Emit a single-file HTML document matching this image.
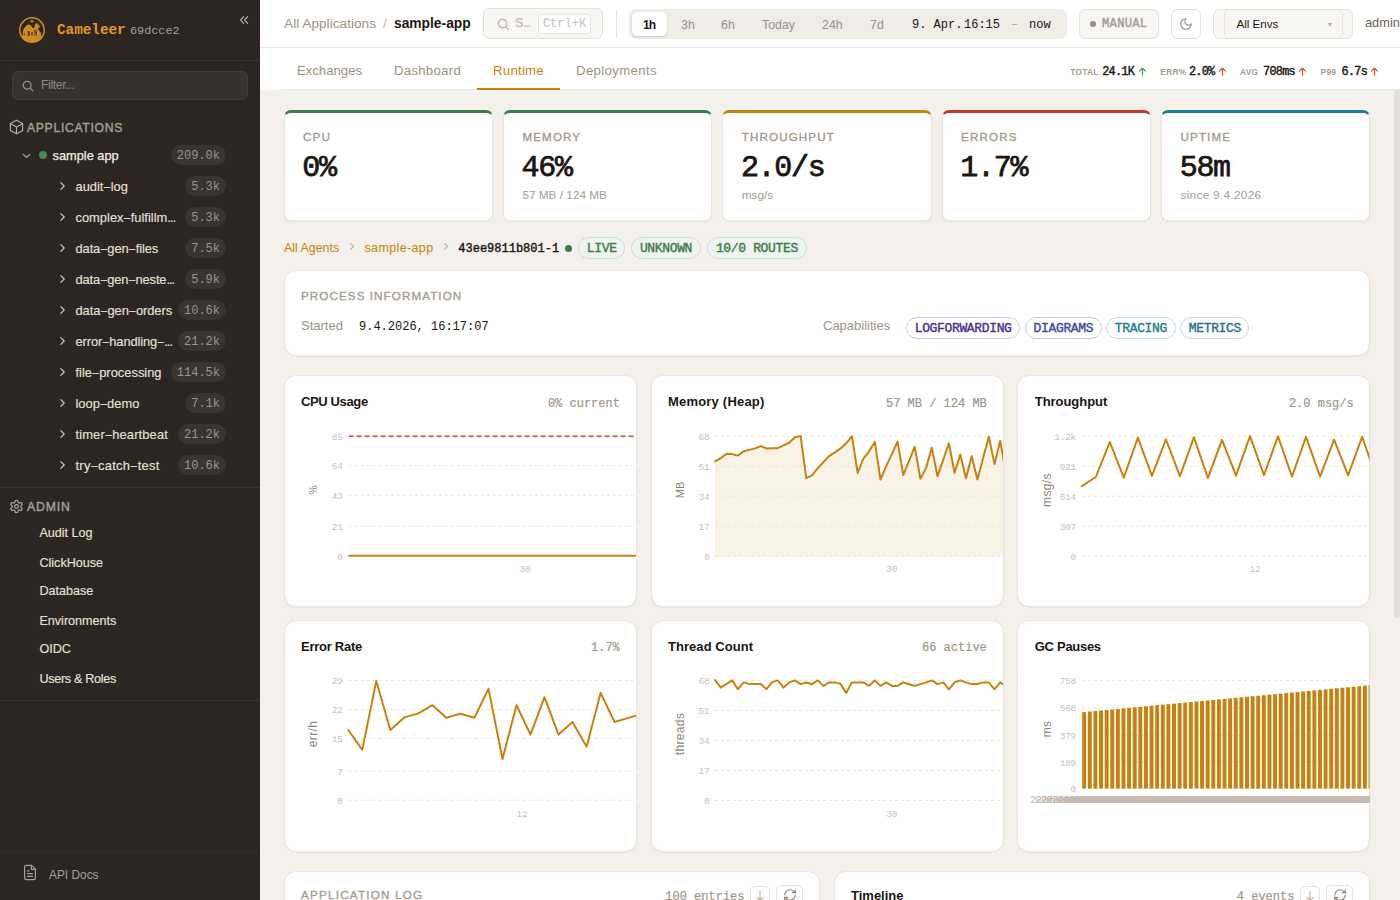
<!DOCTYPE html>
<html lang="en">
<head>
<meta charset="utf-8">
<title>Cameleer - Runtime</title>
<style>
*{box-sizing:border-box;margin:0;padding:0}
html,body{width:1400px;height:900px;overflow:hidden;background:#F4F1EC}
body{font-family:"Liberation Sans",sans-serif;color:#1A1612;position:relative;font-size:13px}
.mono{font-family:"Liberation Mono",monospace}
.abs{position:absolute;white-space:nowrap}
svg{display:block}

/* ---------- sidebar ---------- */
#side{position:absolute;left:0;top:0;width:260px;height:900px;background:#2C2521;color:#E5DDD2}
#side .hr{position:absolute;left:0;width:260px;height:1px;background:#3B3430}
.brand{left:57px;top:20px;font:bold 14.3px/20px "Liberation Mono",monospace;color:#E39A1F}
.ver{left:130px;top:21px;font:11.8px/20px "Liberation Mono",monospace;color:#A89F92}
.filter{position:absolute;left:12px;top:71px;width:236px;height:29px;border-radius:6px;background:#38322D;border:1px solid #443D37}
.filter span{position:absolute;left:28px;top:0;line-height:27px;font-size:12.2px;letter-spacing:-.35px;color:#8F867A}
.sec{font-size:12.2px;letter-spacing:.68px;color:#A89F92;-webkit-text-stroke:.4px #A89F92;line-height:16px}
.row{position:absolute;left:0;width:260px;height:31px}
.row .nm{position:absolute;top:-.3px;line-height:31px;font-size:12.9px;letter-spacing:0;color:#E8E0D5;white-space:nowrap;-webkit-text-stroke:.14px #E8E0D5}
.row .nm .d{font-size:11px;margin:0 .55px;position:relative;top:-.5px}
.row .bd{position:absolute;right:34px;top:5px;height:20px;border-radius:10px;background:#3A332E;color:#9C9389;font:12px/22.7px "Liberation Mono",monospace;padding:0 6px}
.adm{left:39.4px;font-size:12.6px;color:#E8E0D5;line-height:16px;-webkit-text-stroke:.14px #E8E0D5}

/* ---------- top bar ---------- */
#top{position:absolute;left:260px;top:0;width:1140px;height:48px;background:#fff;border-bottom:1px solid #ECE8E2}
#tabs{position:absolute;left:260px;top:48px;width:1140px;height:42px;background:#fff}
#tabs .bl{position:absolute;left:21px;right:0;bottom:0;height:1px;background:#E8E3DB}
.tab{position:absolute;top:0;height:42px;line-height:45px;font-size:13.2px;color:#9C9184;text-align:center}
.tab.on{color:#C6820E;border-bottom:2px solid #C6820E}
.box{position:absolute;border:1px solid #E8E3DB;border-radius:6px;background:#F9F7F3}
.seg{position:absolute;left:369px;top:9px;width:438px;height:30px;border-radius:7px;background:#F0ECE6}
.seg i{position:absolute;top:2px;line-height:29px;font-style:normal;font-size:12.4px;color:#9C9184}
.st{position:absolute;top:13px;line-height:20px;white-space:nowrap}
.st b{position:relative;top:.5px;font:bold 8.4px/20px "Liberation Sans",sans-serif;letter-spacing:.25px;color:#A59C90;vertical-align:top}
.st span{position:relative;top:1.1px;font:11.9px/20px "Liberation Mono",monospace;color:#1A1612;letter-spacing:-.75px;-webkit-text-stroke:.4px #1A1612;vertical-align:top}

/* ---------- cards ---------- */
.card{position:absolute;background:#fff;border:1px solid #E9E4DC;border-radius:12px;box-shadow:0 1px 2px rgba(60,40,20,.05)}
.kpi{position:absolute;top:109.8px;height:111.7px;width:209.4px;background:#fff;border:1px solid #E9E4DC;border-top:3px solid #3D7C47;border-radius:7px;box-shadow:0 1px 2px rgba(60,40,20,.05)}
.kpi .l{position:absolute;left:18.4px;top:17px;font-size:11.6px;letter-spacing:1.15px;color:#A0968A;-webkit-text-stroke:.3px #A0968A;line-height:14px}
.kpi .v{position:absolute;left:17.6px;top:35.5px;font:30px/40px "Liberation Mono",monospace;color:#1A1612;letter-spacing:-1.3px;-webkit-text-stroke:.75px #1A1612}
.kpi .s{position:absolute;left:18.4px;top:74px;font-size:11.8px;color:#A59C90;line-height:16px}
.pill{position:absolute;height:22px;border-radius:11px;border:1px solid;font:13px/21.4px "Liberation Mono",monospace;letter-spacing:-.35px;-webkit-text-stroke:.4px;text-align:center;white-space:nowrap}
.ct{font-weight:bold;font-size:13px;color:#1A1612;line-height:16px}
.cv{font:12px/16px "Liberation Mono",monospace;color:#A09689;-webkit-text-stroke:.2px #A09689}
.charts{position:absolute;left:0;top:0;pointer-events:none}
.tk{font:9.5px "Liberation Mono",monospace;letter-spacing:-.3px;fill:#C9C1B7}
.gcx{fill:#C4BAAF;font-size:10px;letter-spacing:-.6px}
.yl{font:12px "Liberation Sans",sans-serif;letter-spacing:.35px;fill:#8C8378}
.ib{position:absolute;border:1px solid #E8E3DB;border-radius:5px;background:#fff}
</style>
</head>
<body>

<!-- ================= SIDEBAR ================= -->
<div id="side">
  <svg class="abs" style="left:19px;top:17px" width="26" height="26" viewBox="0 0 26 26">
    <circle cx="13" cy="13" r="12.2" fill="none" stroke="#CF8C20" stroke-width="1.5"/>
    <path d="M1.5 18.4 A12.9 12.9 0 0 0 24.5 18.4 Z" fill="#CF8C20"/>
    <path d="M3.5 18.8 3.8 14.4Q4.4 11.6 6.4 9.7Q9 6.4 11.7 8.2L13.4 10.4 15 11.2 16.1 8 16.5 6.2 18.2 6.3 19.2 7.8 21 9.2 20.6 10.7 19 11 19.6 13 21.6 15.5 22.7 18.8Z" fill="#CF8C20"/>
    <path d="M13 2.5 14 3.8 16 4.3 14 4.8 13 6.1 12 4.8 10 4.3 12 3.8Z" fill="#CF8C20"/>
    <g fill="#2C2521" opacity=".82"><rect x="4.7" y="15.8" width="1.1" height="2.4"/><rect x="8.7" y="14" width="2.1" height="4.8" rx=".6"/><rect x="12.3" y="15.2" width="1.4" height="3"/><path d="M15.2 13.2h2.8v1h-1.6v.9h1.6v2.6h-2.8v-1h1.6v-.8h-1.6z"/><rect x="22.1" y="16.8" width=".8" height="2"/></g>
    <g fill="#CFC3AE" opacity=".55"><rect x="6.4" y="19.2" width="1.3" height=".8"/><rect x="13.6" y="23" width="1.1" height=".7"/></g>
  </svg>
  <div class="abs brand">Cameleer</div>
  <div class="abs ver">69dcce2</div>
  <svg class="abs" style="left:239.3px;top:15px" width="10" height="10" viewBox="0 0 10 10" fill="none" stroke="#B5ADA2" stroke-width="1.2" stroke-linecap="round" stroke-linejoin="round"><path d="M4.6 1.6 1.6 5l3 3.4M8.6 1.6 5.6 5l3 3.4"/></svg>
  <div class="hr" style="top:60px"></div>

  <div class="filter">
    <svg style="position:absolute;left:9px;top:8px" width="12" height="12" viewBox="0 0 12 12" fill="none" stroke="#9A9186" stroke-width="1.2" stroke-linecap="round"><circle cx="5.2" cy="5.2" r="3.9"/><path d="M8.2 8.2 10.8 10.8"/></svg>
    <span>Filter...</span>
  </div>

  <svg class="abs" style="left:9px;top:119.4px" width="15" height="16" viewBox="0 0 15 16" fill="none" stroke="#B5ADA2" stroke-width="1.2" stroke-linejoin="round" stroke-linecap="round"><path d="M7.5 1.2 13.6 4.6v6.8L7.5 14.8 1.4 11.4V4.6Z"/><path d="M1.6 4.8 7.5 8.1l5.9-3.3M7.5 8.1v6.5"/></svg>
  <div class="abs sec" style="left:27px;top:119.5px">APPLICATIONS</div>

  <div class="row" style="top:140px">
    <svg class="abs" style="left:22px;top:12px" width="9" height="8" viewBox="0 0 9 8" fill="none" stroke="#A89F92" stroke-width="1.2" stroke-linecap="round" stroke-linejoin="round"><path d="M1.3 2.5 4.5 5.4 7.7 2.5"/></svg>
    <div class="abs" style="left:39px;top:11.2px;width:8px;height:8px;border-radius:50%;background:#3F8A4D"></div>
    <div class="nm" style="left:52.5px;font-size:12.8px;letter-spacing:0;color:#F3ECE2;-webkit-text-stroke:.25px #F3ECE2">sample app</div>
    <div class="bd">209.0k</div>
  </div>
  <div class="row" style="top:171px"><svg class="abs" style="left:58px;top:9.6px" width="9" height="10" viewBox="0 0 9 10" fill="none" stroke="#CFC7BC" stroke-width="1.2" stroke-linecap="round" stroke-linejoin="round"><path d="M2.8 1.6 6.2 5 2.8 8.4"/></svg><div class="nm" style="left:75.5px;letter-spacing:0px">audit<span class="d">&ndash;</span>log</div><div class="bd">5.3k</div></div>
<div class="row" style="top:202px"><svg class="abs" style="left:58px;top:9.6px" width="9" height="10" viewBox="0 0 9 10" fill="none" stroke="#CFC7BC" stroke-width="1.2" stroke-linecap="round" stroke-linejoin="round"><path d="M2.8 1.6 6.2 5 2.8 8.4"/></svg><div class="nm" style="left:75.5px;letter-spacing:0px">complex<span class="d">&ndash;</span>fulfillm<span style="letter-spacing:-1px">...</span></div><div class="bd">5.3k</div></div>
<div class="row" style="top:233px"><svg class="abs" style="left:58px;top:9.6px" width="9" height="10" viewBox="0 0 9 10" fill="none" stroke="#CFC7BC" stroke-width="1.2" stroke-linecap="round" stroke-linejoin="round"><path d="M2.8 1.6 6.2 5 2.8 8.4"/></svg><div class="nm" style="left:75.5px;letter-spacing:-0.1px">data<span class="d">&ndash;</span>gen<span class="d">&ndash;</span>files</div><div class="bd">7.5k</div></div>
<div class="row" style="top:264px"><svg class="abs" style="left:58px;top:9.6px" width="9" height="10" viewBox="0 0 9 10" fill="none" stroke="#CFC7BC" stroke-width="1.2" stroke-linecap="round" stroke-linejoin="round"><path d="M2.8 1.6 6.2 5 2.8 8.4"/></svg><div class="nm" style="left:75.5px;letter-spacing:-0.12px">data<span class="d">&ndash;</span>gen<span class="d">&ndash;</span>neste<span style="letter-spacing:-1px">...</span></div><div class="bd">5.9k</div></div>
<div class="row" style="top:295px"><svg class="abs" style="left:58px;top:9.6px" width="9" height="10" viewBox="0 0 9 10" fill="none" stroke="#CFC7BC" stroke-width="1.2" stroke-linecap="round" stroke-linejoin="round"><path d="M2.8 1.6 6.2 5 2.8 8.4"/></svg><div class="nm" style="left:75.5px;letter-spacing:-0.07px">data<span class="d">&ndash;</span>gen<span class="d">&ndash;</span>orders</div><div class="bd">10.6k</div></div>
<div class="row" style="top:326px"><svg class="abs" style="left:58px;top:9.6px" width="9" height="10" viewBox="0 0 9 10" fill="none" stroke="#CFC7BC" stroke-width="1.2" stroke-linecap="round" stroke-linejoin="round"><path d="M2.8 1.6 6.2 5 2.8 8.4"/></svg><div class="nm" style="left:75.5px;letter-spacing:-0.11px">error<span class="d">&ndash;</span>handling<span class="d">&ndash;</span><span style="letter-spacing:-1px">...</span></div><div class="bd">21.2k</div></div>
<div class="row" style="top:357px"><svg class="abs" style="left:58px;top:9.6px" width="9" height="10" viewBox="0 0 9 10" fill="none" stroke="#CFC7BC" stroke-width="1.2" stroke-linecap="round" stroke-linejoin="round"><path d="M2.8 1.6 6.2 5 2.8 8.4"/></svg><div class="nm" style="left:75.5px;letter-spacing:0px">file<span class="d">&ndash;</span>processing</div><div class="bd">114.5k</div></div>
<div class="row" style="top:388px"><svg class="abs" style="left:58px;top:9.6px" width="9" height="10" viewBox="0 0 9 10" fill="none" stroke="#CFC7BC" stroke-width="1.2" stroke-linecap="round" stroke-linejoin="round"><path d="M2.8 1.6 6.2 5 2.8 8.4"/></svg><div class="nm" style="left:75.5px;letter-spacing:0px">loop<span class="d">&ndash;</span>demo</div><div class="bd">7.1k</div></div>
<div class="row" style="top:419px"><svg class="abs" style="left:58px;top:9.6px" width="9" height="10" viewBox="0 0 9 10" fill="none" stroke="#CFC7BC" stroke-width="1.2" stroke-linecap="round" stroke-linejoin="round"><path d="M2.8 1.6 6.2 5 2.8 8.4"/></svg><div class="nm" style="left:75.5px;letter-spacing:0.14px">timer<span class="d">&ndash;</span>heartbeat</div><div class="bd">21.2k</div></div>
<div class="row" style="top:450px"><svg class="abs" style="left:58px;top:9.6px" width="9" height="10" viewBox="0 0 9 10" fill="none" stroke="#CFC7BC" stroke-width="1.2" stroke-linecap="round" stroke-linejoin="round"><path d="M2.8 1.6 6.2 5 2.8 8.4"/></svg><div class="nm" style="left:75.5px;letter-spacing:0.26px">try<span class="d">&ndash;</span>catch<span class="d">&ndash;</span>test</div><div class="bd">10.6k</div></div>


  <div class="hr" style="top:487px"></div>
  <svg class="abs" style="left:9px;top:499px" width="15" height="15" viewBox="0 0 24 24" fill="none" stroke="#B5ADA2" stroke-width="1.9" stroke-linecap="round" stroke-linejoin="round"><path d="M12.22 2h-.44a2 2 0 0 0-2 2v.18a2 2 0 0 1-1 1.73l-.43.25a2 2 0 0 1-2 0l-.15-.08a2 2 0 0 0-2.73.73l-.22.38a2 2 0 0 0 .73 2.73l.15.1a2 2 0 0 1 1 1.72v.51a2 2 0 0 1-1 1.74l-.15.09a2 2 0 0 0-.73 2.73l.22.38a2 2 0 0 0 2.73.73l.15-.08a2 2 0 0 1 2 0l.43.25a2 2 0 0 1 1 1.73V20a2 2 0 0 0 2 2h.44a2 2 0 0 0 2-2v-.18a2 2 0 0 1 1-1.73l.43-.25a2 2 0 0 1 2 0l.15.08a2 2 0 0 0 2.73-.73l.22-.39a2 2 0 0 0-.73-2.73l-.15-.08a2 2 0 0 1-1-1.74v-.5a2 2 0 0 1 1-1.74l.15-.09a2 2 0 0 0 .73-2.73l-.22-.38a2 2 0 0 0-2.73-.73l-.15.08a2 2 0 0 1-2 0l-.43-.25a2 2 0 0 1-1-1.73V4a2 2 0 0 0-2-2z"/><circle cx="12" cy="12" r="3"/></svg>
  <div class="abs sec" style="left:27px;top:499px;letter-spacing:.86px">ADMIN</div>
  <div class="abs adm" style="top:525px">Audit Log</div>
  <div class="abs adm" style="top:555px">ClickHouse</div>
  <div class="abs adm" style="top:583px">Database</div>
  <div class="abs adm" style="top:613px">Environments</div>
  <div class="abs adm" style="top:641px">OIDC</div>
  <div class="abs adm" style="top:671px;letter-spacing:-.3px">Users &amp; Roles</div>
  <div class="hr" style="top:700px"></div>

  <div class="hr" style="top:851px;background:#332C27"></div>
  <svg class="abs" style="left:23px;top:864px" width="14" height="17" viewBox="0 0 14 17" fill="none" stroke="#A89F92" stroke-width="1.2" stroke-linecap="round" stroke-linejoin="round"><path d="M8.6 1.4H3.2a1.6 1.6 0 0 0-1.6 1.6v11a1.6 1.6 0 0 0 1.6 1.6h7.6a1.6 1.6 0 0 0 1.6-1.6V5.2Z"/><path d="M8.4 1.6v3.8h3.8M4.4 6.8h1.6M4.4 9.6h5.2M4.4 12.4h5.2"/></svg>
  <div class="abs" style="left:49px;top:867px;font-size:11.9px;line-height:16px;color:#A89F92">API Docs</div>
</div>

<!-- ================= TOP BAR ================= -->
<div id="top">
  <div class="abs" style="left:24px;top:14px;line-height:20px;font-size:13.7px;color:#9C9184">All Applications</div>
  <div class="abs" style="left:123px;top:14px;line-height:20px;font-size:13.7px;color:#B9B0A5">/</div>
  <div class="abs" style="left:134px;top:14px;line-height:20px;font-size:13.8px;font-weight:bold;color:#1A1612">sample-app</div>

  <div class="box" style="left:223px;top:8px;width:120px;height:31px">
    <svg style="position:absolute;left:13px;top:9px" width="13" height="13" viewBox="0 0 13 13" fill="none" stroke="#B5ADA2" stroke-width="1.2" stroke-linecap="round"><circle cx="5.6" cy="5.6" r="4.3"/><path d="M8.9 8.9 11.6 11.6"/></svg>
    <div class="abs" style="left:31px;top:0;line-height:28px;font-size:12.5px;color:#B5ADA2">S<span style="letter-spacing:-1.3px">...</span></div>
    <div class="abs mono" style="left:54px;top:4.5px;width:53px;height:20px;border:1px solid #E8E3DB;border-radius:4px;background:#fff;font-size:12px;line-height:18px;text-align:center;color:#C6BFB5">Ctrl+K</div>
  </div>
  <div class="abs" style="left:355.5px;top:10px;width:1.5px;height:28px;background:#E8E3DB"></div>

  <div class="seg">
    <div class="abs" style="left:3px;top:2.5px;width:35px;height:24.5px;border-radius:5px;background:#fff;box-shadow:0 1px 2px rgba(60,40,20,.18)"></div>
    <i style="left:14px;font-weight:bold;color:#1A1612;font-size:12px;letter-spacing:-.8px">1h</i>
    <i style="left:52px">3h</i>
    <i style="left:92px">6h</i>
    <i style="left:133px">Today</i>
    <i style="left:193px">24h</i>
    <i style="left:241px">7d</i>
    <i class="mono" style="left:283px;font-size:12px;color:#1A1612">9. Apr.</i>
    <i class="mono" style="left:335px;font-size:12px;color:#1A1612">16:15</i>
    <i class="mono" style="left:382px;font-size:12px;color:#B5ADA2">&ndash;</i>
    <i class="mono" style="left:400px;font-size:12px;color:#1A1612">now</i>
  </div>

  <div class="box" style="left:819px;top:9px;width:80px;height:30px">
    <div class="abs" style="left:10px;top:10.6px;width:6px;height:6px;border-radius:50%;background:#9C9184"></div>
    <div class="abs mono" style="left:22px;top:0;line-height:28.6px;font-size:12.2px;letter-spacing:.25px;color:#A59C90;-webkit-text-stroke:.4px #A59C90">MANUAL</div>
  </div>
  <div class="box" style="left:911px;top:9px;width:30px;height:30px;background:#fff">
    <svg style="position:absolute;left:7px;top:7px" width="14" height="14" viewBox="0 0 24 24" fill="none" stroke="#9C9184" stroke-width="2.1" stroke-linecap="round" stroke-linejoin="round"><path d="M12 3a6 6 0 0 0 9 9 9 9 0 1 1-9-9Z"/></svg>
  </div>
  <div class="box" style="left:953px;top:9px;width:140px;height:30px"></div>
  <div class="box" style="left:963.5px;top:9px;width:119px;height:30px">
    <div class="abs" style="left:12px;top:0;line-height:28px;font-size:11.6px;color:#1A1612">All Envs</div>
    <div class="abs" style="left:103.5px;top:13px;width:0;height:0;border-left:2.6px solid transparent;border-right:2.6px solid transparent;border-top:4px solid #B5ADA2"></div>
  </div>
  <div class="abs" style="left:1105px;top:13px;line-height:20px;font-size:12.8px;color:#6B6258">admin</div>
</div>

<!-- ================= TABS ================= -->
<div id="tabs">
  <div class="bl"></div>
  <div class="tab" style="left:21px;width:97px">Exchanges</div>
  <div class="tab" style="left:118px;width:99px;letter-spacing:.28px">Dashboard</div>
  <div class="tab on" style="left:217px;width:83px;letter-spacing:.25px">Runtime</div>
  <div class="tab" style="left:300px;width:113px;letter-spacing:.36px">Deployments</div>

  <div class="st" style="left:810.2px"><b>TOTAL</b></div><div class="st" style="left:842.2px"><span>24.1K</span></div>
  <div class="st" style="left:900.3px"><b>ERR%</b></div><div class="st" style="left:928.9px"><span>2.0%</span></div>
  <div class="st" style="left:980.0px"><b>AVG</b></div><div class="st" style="left:1003.0px"><span>708ms</span></div>
  <div class="st" style="left:1060.6px"><b>P99</b></div><div class="st" style="left:1081.5px"><span>6.7s</span></div>
  <svg class="abs" style="left:877.5px;top:19px" width="9" height="9" viewBox="0 0 9 9" fill="none" stroke="#4C9458" stroke-width="1.2" stroke-linecap="round" stroke-linejoin="round"><path d="M4.5 8.2V1.3M1.5 4.2 4.5 1.2 7.5 4.2"/></svg><svg class="abs" style="left:957.5px;top:19px" width="9" height="9" viewBox="0 0 9 9" fill="none" stroke="#CC4A3D" stroke-width="1.2" stroke-linecap="round" stroke-linejoin="round"><path d="M4.5 8.2V1.3M1.5 4.2 4.5 1.2 7.5 4.2"/></svg><svg class="abs" style="left:1037.5px;top:19px" width="9" height="9" viewBox="0 0 9 9" fill="none" stroke="#CC4A3D" stroke-width="1.2" stroke-linecap="round" stroke-linejoin="round"><path d="M4.5 8.2V1.3M1.5 4.2 4.5 1.2 7.5 4.2"/></svg><svg class="abs" style="left:1109.5px;top:19px" width="9" height="9" viewBox="0 0 9 9" fill="none" stroke="#CC4A3D" stroke-width="1.2" stroke-linecap="round" stroke-linejoin="round"><path d="M4.5 8.2V1.3M1.5 4.2 4.5 1.2 7.5 4.2"/></svg>
</div>

<!-- ================= CONTENT ================= -->
<div class="kpi" style="left:283.6px;border-top-color:#3D7C47"><div class="l">CPU</div><div class="v">0%</div></div>
<div class="kpi" style="left:503.0px;border-top-color:#3D7C47"><div class="l">MEMORY</div><div class="v">46%</div><div class="s">57 MB / 124 MB</div></div>
<div class="kpi" style="left:722.3px;border-top-color:#C6820E"><div class="l">THROUGHPUT</div><div class="v">2.0/s</div><div class="s">msg/s</div></div>
<div class="kpi" style="left:941.7px;border-top-color:#C0392B"><div class="l">ERRORS</div><div class="v">1.7%</div></div>
<div class="kpi" style="left:1161.1px;border-top-color:#1A7F8E"><div class="l">UPTIME</div><div class="v">58m</div><div class="s" style="letter-spacing:.3px">since 9.4.2026</div></div>
<div class="abs" style="left:284px;top:240px;line-height:16px;font-size:12.4px;color:#C6820E">All Agents</div>
<svg class="abs" style="left:348px;top:242px" width="8" height="9" viewBox="0 0 8 9" fill="none" stroke="#B9B0A5" stroke-width="1.1" stroke-linecap="round" stroke-linejoin="round"><path d="M2.6 1.6 5.6 4.5 2.6 7.4"/></svg>
<div class="abs" style="left:364.5px;top:240px;line-height:16px;font-size:12.6px;letter-spacing:.32px;color:#C6820E">sample-app</div>
<svg class="abs" style="left:442px;top:242px" width="8" height="9" viewBox="0 0 8 9" fill="none" stroke="#B9B0A5" stroke-width="1.1" stroke-linecap="round" stroke-linejoin="round"><path d="M2.6 1.6 5.6 4.5 2.6 7.4"/></svg>
<div class="abs mono" style="left:458.3px;top:241px;line-height:16px;font-size:12px;color:#1A1612;-webkit-text-stroke:.4px #1A1612">43ee9811b801-1</div>
<div class="abs" style="left:565.3px;top:245.2px;width:7px;height:7px;border-radius:50%;background:#3D7C47"></div>
<div class="pill" style="left:578.2px;top:237.3px;width:47px;color:#3D7C47;background:#EEF5EE;border-color:#CBE0CD">LIVE</div>
<div class="pill" style="left:631px;top:237.3px;width:70px;color:#3D7C47;background:#EEF5EE;border-color:#CBE0CD">UNKNOWN</div>
<div class="pill" style="left:706.9px;top:237.3px;width:100px;color:#3D7C47;background:#EEF5EE;border-color:#CBE0CD">10/0 ROUTES</div>
<div class="card" style="left:283.6px;top:269.9px;width:1086.9px;height:85.9px"></div>
<div class="abs" style="left:301px;top:288px;line-height:16px;font-size:11.7px;letter-spacing:1.05px;color:#A59C90;-webkit-text-stroke:.35px #A59C90">PROCESS INFORMATION</div>
<div class="abs" style="left:301px;top:318px;line-height:16px;font-size:13px;color:#9C9388">Started</div>
<div class="abs mono" style="left:359px;top:319px;line-height:16px;font-size:12px;color:#1A1612">9.4.2026, 16:17:07</div>
<div class="abs" style="left:823px;top:318px;line-height:16px;font-size:13px;color:#9C9388">Capabilities</div>
<div class="pill" style="left:906px;top:317px;width:114.3px;color:#4B318C;background:#fff;border-color:#CFC7EC">LOGFORWARDING</div>
<div class="pill" style="left:1025px;top:317px;width:76.8px;color:#3B4B9C;background:#fff;border-color:#C7CCEC">DIAGRAMS</div>
<div class="pill" style="left:1106px;top:317px;width:69.8px;color:#1F7F88;background:#fff;border-color:#BFE0E3">TRACING</div>
<div class="pill" style="left:1180.4px;top:317px;width:69px;color:#2A6F8A;background:#fff;border-color:#BFDAE5">METRICS</div>
<div class="card" style="left:283.60px;top:374.6px;width:352.97px;height:232.3px"></div>
<div class="abs ct" style="left:301.0px;top:394.1px;letter-spacing:-0.37px">CPU Usage</div>
<div class="abs cv" style="right:780.1px;top:395.7px">0% current</div>
<div class="card" style="left:650.57px;top:374.6px;width:352.97px;height:232.3px"></div>
<div class="abs ct" style="left:668.0px;top:394.1px;letter-spacing:0.2px">Memory (Heap)</div>
<div class="abs cv" style="right:413.2px;top:395.7px">57 MB / 124 MB</div>
<div class="card" style="left:1017.40px;top:374.6px;width:352.97px;height:232.3px"></div>
<div class="abs ct" style="left:1034.8px;top:394.1px;letter-spacing:-0.05px">Throughput</div>
<div class="abs cv" style="right:46.3px;top:395.7px">2.0 msg/s</div>
<div class="card" style="left:283.60px;top:619.8px;width:352.97px;height:232.3px"></div>
<div class="abs ct" style="left:301.0px;top:639.2px;letter-spacing:-0.26px">Error Rate</div>
<div class="abs cv" style="right:780.1px;top:639.7px">1.7%</div>
<div class="card" style="left:650.57px;top:619.8px;width:352.97px;height:232.3px"></div>
<div class="abs ct" style="left:668.0px;top:639.2px;letter-spacing:0.05px">Thread Count</div>
<div class="abs cv" style="right:413.2px;top:639.7px">66 active</div>
<div class="card" style="left:1017.40px;top:619.8px;width:352.97px;height:232.3px"></div>
<div class="abs ct" style="left:1034.8px;top:639.2px;letter-spacing:-0.3px">GC Pauses</div>
<div class="card" style="left:283.6px;top:871.2px;width:536.4px;height:60px"></div>
<div class="card" style="left:834.1px;top:871.2px;width:536.4px;height:60px"></div>
<div class="abs" style="left:301px;top:886.5px;line-height:16px;font-size:11.7px;letter-spacing:1.2px;color:#A59C90;-webkit-text-stroke:.35px #A59C90">APPLICATION LOG</div>
<div class="abs ct" style="left:851px;top:887.5px">Timeline</div>
<div class="abs cv" style="left:665.3px;top:889.2px;font-size:12px">100 entries</div>
<div class="abs cv" style="left:1236.8px;top:889.2px;font-size:12px">4 events</div>
<div class="ib" style="left:750.4px;top:886px;width:19.2px;height:22px"><svg style="position:absolute;left:4px;top:3px" width="10" height="14" viewBox="0 0 10 14" fill="none" stroke="#B5ADA2" stroke-width="1.1" stroke-linecap="round" stroke-linejoin="round"><path d="M5 1v9M2 7.4 5 10.4 8 7.4"/></svg></div>
<div class="ib" style="left:1300.4px;top:886px;width:19.2px;height:22px"><svg style="position:absolute;left:4px;top:3px" width="10" height="14" viewBox="0 0 10 14" fill="none" stroke="#B5ADA2" stroke-width="1.1" stroke-linecap="round" stroke-linejoin="round"><path d="M5 1v9M2 7.4 5 10.4 8 7.4"/></svg></div>
<div class="ib" style="left:776.4px;top:884.8px;width:26.4px;height:26px"><svg style="position:absolute;left:5.2px;top:2.6px" width="14" height="14" viewBox="0 0 24 24" fill="none" stroke="#8C8378" stroke-width="2" stroke-linecap="round" stroke-linejoin="round"><path d="M3 12a9 9 0 0 1 9-9 9.75 9.75 0 0 1 6.74 2.74L21 8"/><path d="M21 3v5h-5"/><path d="M21 12a9 9 0 0 1-9 9 9.75 9.75 0 0 1-6.74-2.74L3 16"/><path d="M8 16H3v5"/></svg></div>
<div class="ib" style="left:1326.4px;top:884.8px;width:26.4px;height:26px"><svg style="position:absolute;left:5.2px;top:2.6px" width="14" height="14" viewBox="0 0 24 24" fill="none" stroke="#8C8378" stroke-width="2" stroke-linecap="round" stroke-linejoin="round"><path d="M3 12a9 9 0 0 1 9-9 9.75 9.75 0 0 1 6.74 2.74L21 8"/><path d="M21 3v5h-5"/><path d="M21 12a9 9 0 0 1-9 9 9.75 9.75 0 0 1-6.74-2.74L3 16"/><path d="M8 16H3v5"/></svg></div>

<svg class="charts" width="1400" height="900" viewBox="0 0 1400 900">
<defs>
<clipPath id="c0"><rect x="285" y="370" width="351.20000000000005" height="490"/></clipPath>
<clipPath id="c1"><rect x="651.7" y="370" width="351.29999999999995" height="490"/></clipPath>
<clipPath id="c2"><rect x="1018.4" y="370" width="351.1" height="490"/></clipPath>
</defs>
<line x1="348.6" x2="634.3" y1="465.6" y2="465.6" stroke="#EAE5DE" stroke-width="1" stroke-dasharray="3 3"/><line x1="348.6" x2="634.3" y1="495.3" y2="495.3" stroke="#EAE5DE" stroke-width="1" stroke-dasharray="3 3"/><line x1="348.6" x2="634.3" y1="526.3" y2="526.3" stroke="#EAE5DE" stroke-width="1" stroke-dasharray="3 3"/>
<line x1="348.6" x2="636" y1="436.2" y2="436.2" stroke="#C4493D" stroke-width="1.6" stroke-dasharray="5 3"/>
<line x1="348.4" x2="636" y1="555.7" y2="555.7" stroke="#C6820E" stroke-width="2"/>
<text x="342.6" y="439.9" text-anchor="end" class="tk">85</text><text x="342.6" y="469.3" text-anchor="end" class="tk">64</text><text x="342.6" y="499.0" text-anchor="end" class="tk">43</text><text x="342.6" y="530.0" text-anchor="end" class="tk">21</text><text x="342.6" y="559.5" text-anchor="end" class="tk">0</text>
<text x="525" y="571.8" text-anchor="middle" class="tk">30</text>
<text transform="translate(316.5,490) rotate(-90)" text-anchor="middle" class="yl" style="font-size:10.5px">%</text>
<g clip-path="url(#c1)"><polygon points="715.1,556.4 715.1,461.3 720.8,458.1 726.5,453.8 732.2,454.1 737.9,455.6 743.6,451.3 749.3,449.9 755.0,448.4 760.7,446.1 766.4,448.4 772.1,448.2 777.8,448.2 783.5,445.3 789.2,442.7 794.9,437.3 800.6,435.9 806.3,478.1 812.0,475.3 817.7,468.2 823.4,462.1 829.1,456.1 834.8,452.4 840.5,448.4 846.2,443.3 851.9,436.2 857.7,473.0 863.4,458.7 869.1,451.3 874.8,441.9 880.5,479.5 886.2,466.1 891.9,454.1 897.6,441.6 903.3,475.1 909.0,461.0 914.7,446.7 920.4,478.7 926.1,467.9 931.8,447.6 937.5,476.2 943.2,459.9 948.9,443.3 954.6,472.8 960.3,454.5 966.0,478.3 971.7,456.1 977.4,479.5 983.1,458.1 988.8,436.8 994.5,463.9 1000.2,440.8 1005.9,472.0 1005.9,556.4" fill="#F8F2E7"/>
<line x1="715.1" x2="1001.3" y1="436.2" y2="436.2" stroke="#EAE5DE" stroke-width="1" stroke-dasharray="3 3"/><line x1="715.1" x2="1001.3" y1="466.2" y2="466.2" stroke="#EAE5DE" stroke-width="1" stroke-dasharray="3 3"/><line x1="715.1" x2="1001.3" y1="496.2" y2="496.2" stroke="#EAE5DE" stroke-width="1" stroke-dasharray="3 3"/><line x1="715.1" x2="1001.3" y1="526.2" y2="526.2" stroke="#EAE5DE" stroke-width="1" stroke-dasharray="3 3"/><line x1="715.1" x2="1001.3" y1="556.2" y2="556.2" stroke="#EAE5DE" stroke-width="1" stroke-dasharray="3 3"/>
<polyline points="715.1,461.3 720.8,458.1 726.5,453.8 732.2,454.1 737.9,455.6 743.6,451.3 749.3,449.9 755.0,448.4 760.7,446.1 766.4,448.4 772.1,448.2 777.8,448.2 783.5,445.3 789.2,442.7 794.9,437.3 800.6,435.9 806.3,478.1 812.0,475.3 817.7,468.2 823.4,462.1 829.1,456.1 834.8,452.4 840.5,448.4 846.2,443.3 851.9,436.2 857.7,473.0 863.4,458.7 869.1,451.3 874.8,441.9 880.5,479.5 886.2,466.1 891.9,454.1 897.6,441.6 903.3,475.1 909.0,461.0 914.7,446.7 920.4,478.7 926.1,467.9 931.8,447.6 937.5,476.2 943.2,459.9 948.9,443.3 954.6,472.8 960.3,454.5 966.0,478.3 971.7,456.1 977.4,479.5 983.1,458.1 988.8,436.8 994.5,463.9 1000.2,440.8 1005.9,472.0" fill="none" stroke="#C6820E" stroke-width="2" stroke-linejoin="round" stroke-linecap="round"/></g>
<text x="709.3" y="439.9" text-anchor="end" class="tk">68</text><text x="709.3" y="469.9" text-anchor="end" class="tk">51</text><text x="709.3" y="499.9" text-anchor="end" class="tk">34</text><text x="709.3" y="529.9" text-anchor="end" class="tk">17</text><text x="709.3" y="559.9" text-anchor="end" class="tk">0</text>
<text x="891.7" y="571.8" text-anchor="middle" class="tk">30</text>
<text transform="translate(683.5,490) rotate(-90)" text-anchor="middle" class="yl" style="font-size:11px;letter-spacing:0">MB</text>
<line x1="1081.8" x2="1367.3" y1="436.2" y2="436.2" stroke="#EAE5DE" stroke-width="1" stroke-dasharray="3 3"/><line x1="1081.8" x2="1367.3" y1="466.2" y2="466.2" stroke="#EAE5DE" stroke-width="1" stroke-dasharray="3 3"/><line x1="1081.8" x2="1367.3" y1="496.2" y2="496.2" stroke="#EAE5DE" stroke-width="1" stroke-dasharray="3 3"/><line x1="1081.8" x2="1367.3" y1="526.2" y2="526.2" stroke="#EAE5DE" stroke-width="1" stroke-dasharray="3 3"/><line x1="1081.8" x2="1367.3" y1="556.2" y2="556.2" stroke="#EAE5DE" stroke-width="1" stroke-dasharray="3 3"/>
<g clip-path="url(#c2)"><polyline points="1081.8,486.1 1095.8,477.0 1109.8,442.1 1123.8,477.6 1137.9,437.6 1151.9,475.9 1165.9,439.3 1179.9,476.2 1193.9,437.3 1207.9,478.1 1222.0,439.9 1236.0,475.6 1250.0,436.1 1264.0,475.1 1278.0,436.4 1292.0,476.7 1306.0,436.8 1320.1,476.7 1334.1,439.6 1348.1,475.3 1362.1,436.8 1376.1,476.5" fill="none" stroke="#C6820E" stroke-width="2" stroke-linejoin="round" stroke-linecap="round"/></g>
<text x="1076" y="439.9" text-anchor="end" class="tk">1.2k</text><text x="1076" y="469.9" text-anchor="end" class="tk">921</text><text x="1076" y="499.9" text-anchor="end" class="tk">614</text><text x="1076" y="529.9" text-anchor="end" class="tk">307</text><text x="1076" y="559.9" text-anchor="end" class="tk">0</text>
<text x="1255" y="571.8" text-anchor="middle" class="tk">12</text>
<text transform="translate(1050.5,490) rotate(-90)" text-anchor="middle" class="yl">msg/s</text>
<line x1="348.6" x2="634.3" y1="680.5" y2="680.5" stroke="#EAE5DE" stroke-width="1" stroke-dasharray="3 3"/><line x1="348.6" x2="634.3" y1="709.5" y2="709.5" stroke="#EAE5DE" stroke-width="1" stroke-dasharray="3 3"/><line x1="348.6" x2="634.3" y1="738.3" y2="738.3" stroke="#EAE5DE" stroke-width="1" stroke-dasharray="3 3"/><line x1="348.6" x2="634.3" y1="771.3" y2="771.3" stroke="#EAE5DE" stroke-width="1" stroke-dasharray="3 3"/><line x1="348.6" x2="634.3" y1="800.2" y2="800.2" stroke="#EAE5DE" stroke-width="1" stroke-dasharray="3 3"/>
<g clip-path="url(#c0)"><polyline points="348.3,730.0 362.3,749.8 376.3,680.9 390.3,730.0 404.4,717.4 418.4,713.4 432.4,705.2 446.4,717.8 460.4,713.8 474.4,717.8 488.5,688.9 502.5,759.0 516.5,705.2 530.5,734.6 544.5,697.2 558.5,734.6 572.5,722.0 586.6,746.8 600.6,692.9 614.6,722.0 628.6,717.9 642.6,713.6" fill="none" stroke="#C6820E" stroke-width="2" stroke-linejoin="round" stroke-linecap="round"/></g>
<text x="342.6" y="684.2" text-anchor="end" class="tk">29</text><text x="342.6" y="713.2" text-anchor="end" class="tk">22</text><text x="342.6" y="742.0" text-anchor="end" class="tk">15</text><text x="342.6" y="775.0" text-anchor="end" class="tk">7</text><text x="342.6" y="803.9" text-anchor="end" class="tk">0</text>
<text x="522" y="816.8" text-anchor="middle" class="tk">12</text>
<text transform="translate(316.5,734) rotate(-90)" text-anchor="middle" class="yl">err/h</text>
<line x1="715.1" x2="1001.3" y1="680.6" y2="680.6" stroke="#EAE5DE" stroke-width="1" stroke-dasharray="3 3"/><line x1="715.1" x2="1001.3" y1="710.5" y2="710.5" stroke="#EAE5DE" stroke-width="1" stroke-dasharray="3 3"/><line x1="715.1" x2="1001.3" y1="740.5" y2="740.5" stroke="#EAE5DE" stroke-width="1" stroke-dasharray="3 3"/><line x1="715.1" x2="1001.3" y1="770.5" y2="770.5" stroke="#EAE5DE" stroke-width="1" stroke-dasharray="3 3"/><line x1="715.1" x2="1001.3" y1="800.5" y2="800.5" stroke="#EAE5DE" stroke-width="1" stroke-dasharray="3 3"/>
<g clip-path="url(#c1)"><polyline points="715.1,680.1 720.8,687.6 726.5,683.9 732.2,680.4 737.9,689.2 743.6,682.4 749.3,683.9 755.0,683.9 760.7,683.9 766.4,689.2 772.1,682.1 777.8,680.4 783.5,687.6 789.2,682.4 794.9,680.4 800.6,684.1 806.3,682.5 812.0,684.2 817.7,680.4 823.4,685.9 829.1,682.4 834.8,682.4 840.5,683.9 846.2,693.0 851.9,682.4 857.7,682.4 863.4,682.4 869.1,685.9 874.8,680.4 880.5,685.9 886.2,682.4 891.9,685.9 897.6,685.9 903.3,682.4 909.0,684.2 914.7,685.9 920.4,684.1 926.1,682.4 931.8,680.4 937.5,684.1 943.2,682.4 948.9,689.3 954.6,682.4 960.3,680.4 966.0,682.4 971.7,684.1 977.4,684.1 983.1,682.4 988.8,682.4 994.5,689.3 1000.2,682.4 1005.9,686.3" fill="none" stroke="#C6820E" stroke-width="2" stroke-linejoin="round" stroke-linecap="round"/></g>
<text x="709.3" y="684.3" text-anchor="end" class="tk">68</text><text x="709.3" y="714.2" text-anchor="end" class="tk">51</text><text x="709.3" y="744.2" text-anchor="end" class="tk">34</text><text x="709.3" y="774.2" text-anchor="end" class="tk">17</text><text x="709.3" y="804.2" text-anchor="end" class="tk">0</text>
<text x="891.7" y="816.8" text-anchor="middle" class="tk">30</text>
<text transform="translate(683.5,734) rotate(-90)" text-anchor="middle" class="yl">threads</text>
<line x1="1081.8" x2="1367.3" y1="680.6" y2="680.6" stroke="#EAE5DE" stroke-width="1" stroke-dasharray="3 3"/><line x1="1081.8" x2="1367.3" y1="707.7" y2="707.7" stroke="#EAE5DE" stroke-width="1" stroke-dasharray="3 3"/><line x1="1081.8" x2="1367.3" y1="735.2" y2="735.2" stroke="#EAE5DE" stroke-width="1" stroke-dasharray="3 3"/><line x1="1081.8" x2="1367.3" y1="761.9" y2="761.9" stroke="#EAE5DE" stroke-width="1" stroke-dasharray="3 3"/><line x1="1081.8" x2="1367.3" y1="788.6" y2="788.6" stroke="#EAE5DE" stroke-width="1" stroke-dasharray="3 3"/>
<g clip-path="url(#c2)">
<rect x="1082.20" y="712.10" width="3.95" height="76.50" fill="#C6820E"/>
<rect x="1087.81" y="711.57" width="3.95" height="77.03" fill="#C6820E"/>
<rect x="1093.43" y="711.04" width="3.95" height="77.56" fill="#C6820E"/>
<rect x="1099.04" y="710.51" width="3.95" height="78.09" fill="#C6820E"/>
<rect x="1104.66" y="709.98" width="3.95" height="78.62" fill="#C6820E"/>
<rect x="1110.27" y="709.46" width="3.95" height="79.14" fill="#C6820E"/>
<rect x="1115.88" y="708.93" width="3.95" height="79.67" fill="#C6820E"/>
<rect x="1121.50" y="708.40" width="3.95" height="80.20" fill="#C6820E"/>
<rect x="1127.11" y="707.87" width="3.95" height="80.73" fill="#C6820E"/>
<rect x="1132.73" y="707.34" width="3.95" height="81.26" fill="#C6820E"/>
<rect x="1138.34" y="706.81" width="3.95" height="81.79" fill="#C6820E"/>
<rect x="1143.95" y="706.28" width="3.95" height="82.32" fill="#C6820E"/>
<rect x="1149.57" y="705.75" width="3.95" height="82.85" fill="#C6820E"/>
<rect x="1155.18" y="705.22" width="3.95" height="83.38" fill="#C6820E"/>
<rect x="1160.80" y="704.69" width="3.95" height="83.91" fill="#C6820E"/>
<rect x="1166.41" y="704.17" width="3.95" height="84.43" fill="#C6820E"/>
<rect x="1172.02" y="703.64" width="3.95" height="84.96" fill="#C6820E"/>
<rect x="1177.64" y="703.11" width="3.95" height="85.49" fill="#C6820E"/>
<rect x="1183.25" y="702.58" width="3.95" height="86.02" fill="#C6820E"/>
<rect x="1188.87" y="702.05" width="3.95" height="86.55" fill="#C6820E"/>
<rect x="1194.48" y="701.52" width="3.95" height="87.08" fill="#C6820E"/>
<rect x="1200.09" y="700.99" width="3.95" height="87.61" fill="#C6820E"/>
<rect x="1205.71" y="700.46" width="3.95" height="88.14" fill="#C6820E"/>
<rect x="1211.32" y="699.93" width="3.95" height="88.67" fill="#C6820E"/>
<rect x="1216.94" y="699.40" width="3.95" height="89.20" fill="#C6820E"/>
<rect x="1222.55" y="698.88" width="3.95" height="89.73" fill="#C6820E"/>
<rect x="1228.16" y="698.35" width="3.95" height="90.25" fill="#C6820E"/>
<rect x="1233.78" y="697.82" width="3.95" height="90.78" fill="#C6820E"/>
<rect x="1239.39" y="697.29" width="3.95" height="91.31" fill="#C6820E"/>
<rect x="1245.01" y="696.76" width="3.95" height="91.84" fill="#C6820E"/>
<rect x="1250.62" y="696.23" width="3.95" height="92.37" fill="#C6820E"/>
<rect x="1256.23" y="695.70" width="3.95" height="92.90" fill="#C6820E"/>
<rect x="1261.85" y="695.17" width="3.95" height="93.43" fill="#C6820E"/>
<rect x="1267.46" y="694.64" width="3.95" height="93.96" fill="#C6820E"/>
<rect x="1273.08" y="694.11" width="3.95" height="94.49" fill="#C6820E"/>
<rect x="1278.69" y="693.59" width="3.95" height="95.01" fill="#C6820E"/>
<rect x="1284.30" y="693.06" width="3.95" height="95.54" fill="#C6820E"/>
<rect x="1289.92" y="692.53" width="3.95" height="96.07" fill="#C6820E"/>
<rect x="1295.53" y="692.00" width="3.95" height="96.60" fill="#C6820E"/>
<rect x="1301.15" y="691.47" width="3.95" height="97.13" fill="#C6820E"/>
<rect x="1306.76" y="690.94" width="3.95" height="97.66" fill="#C6820E"/>
<rect x="1312.37" y="690.41" width="3.95" height="98.19" fill="#C6820E"/>
<rect x="1317.99" y="689.88" width="3.95" height="98.72" fill="#C6820E"/>
<rect x="1323.60" y="689.35" width="3.95" height="99.25" fill="#C6820E"/>
<rect x="1329.22" y="688.82" width="3.95" height="99.78" fill="#C6820E"/>
<rect x="1334.83" y="688.30" width="3.95" height="100.30" fill="#C6820E"/>
<rect x="1340.44" y="687.77" width="3.95" height="100.83" fill="#C6820E"/>
<rect x="1346.06" y="687.24" width="3.95" height="101.36" fill="#C6820E"/>
<rect x="1351.67" y="686.71" width="3.95" height="101.89" fill="#C6820E"/>
<rect x="1357.29" y="686.18" width="3.95" height="102.42" fill="#C6820E"/>
<rect x="1362.90" y="685.65" width="3.95" height="102.95" fill="#C6820E"/>
<rect x="1368.51" y="685.12" width="3.95" height="103.48" fill="#C6820E"/>
<rect x="1374.13" y="684.59" width="3.95" height="104.01" fill="#C6820E"/>
<text x="1084.2" y="802.9" text-anchor="middle" class="tk gcx">2026-04-09T14:17:00Z</text>
<text x="1089.8" y="802.9" text-anchor="middle" class="tk gcx">2026-04-09T14:18:00Z</text>
<text x="1095.4" y="802.9" text-anchor="middle" class="tk gcx">2026-04-09T14:19:00Z</text>
<text x="1101.0" y="802.9" text-anchor="middle" class="tk gcx">2026-04-09T14:20:00Z</text>
<text x="1106.7" y="802.9" text-anchor="middle" class="tk gcx">2026-04-09T14:21:00Z</text>
<text x="1112.3" y="802.9" text-anchor="middle" class="tk gcx">2026-04-09T14:22:00Z</text>
<text x="1117.9" y="802.9" text-anchor="middle" class="tk gcx">2026-04-09T14:23:00Z</text>
<text x="1123.5" y="802.9" text-anchor="middle" class="tk gcx">2026-04-09T14:24:00Z</text>
<text x="1129.1" y="802.9" text-anchor="middle" class="tk gcx">2026-04-09T14:25:00Z</text>
<text x="1134.7" y="802.9" text-anchor="middle" class="tk gcx">2026-04-09T14:26:00Z</text>
<text x="1140.3" y="802.9" text-anchor="middle" class="tk gcx">2026-04-09T14:27:00Z</text>
<text x="1146.0" y="802.9" text-anchor="middle" class="tk gcx">2026-04-09T14:28:00Z</text>
<text x="1151.6" y="802.9" text-anchor="middle" class="tk gcx">2026-04-09T14:29:00Z</text>
<text x="1157.2" y="802.9" text-anchor="middle" class="tk gcx">2026-04-09T14:30:00Z</text>
<text x="1162.8" y="802.9" text-anchor="middle" class="tk gcx">2026-04-09T14:31:00Z</text>
<text x="1168.4" y="802.9" text-anchor="middle" class="tk gcx">2026-04-09T14:32:00Z</text>
<text x="1174.0" y="802.9" text-anchor="middle" class="tk gcx">2026-04-09T14:33:00Z</text>
<text x="1179.6" y="802.9" text-anchor="middle" class="tk gcx">2026-04-09T14:34:00Z</text>
<text x="1185.3" y="802.9" text-anchor="middle" class="tk gcx">2026-04-09T14:35:00Z</text>
<text x="1190.9" y="802.9" text-anchor="middle" class="tk gcx">2026-04-09T14:36:00Z</text>
<text x="1196.5" y="802.9" text-anchor="middle" class="tk gcx">2026-04-09T14:37:00Z</text>
<text x="1202.1" y="802.9" text-anchor="middle" class="tk gcx">2026-04-09T14:38:00Z</text>
<text x="1207.7" y="802.9" text-anchor="middle" class="tk gcx">2026-04-09T14:39:00Z</text>
<text x="1213.3" y="802.9" text-anchor="middle" class="tk gcx">2026-04-09T14:40:00Z</text>
<text x="1218.9" y="802.9" text-anchor="middle" class="tk gcx">2026-04-09T14:41:00Z</text>
<text x="1224.5" y="802.9" text-anchor="middle" class="tk gcx">2026-04-09T14:42:00Z</text>
<text x="1230.2" y="802.9" text-anchor="middle" class="tk gcx">2026-04-09T14:43:00Z</text>
<text x="1235.8" y="802.9" text-anchor="middle" class="tk gcx">2026-04-09T14:44:00Z</text>
<text x="1241.4" y="802.9" text-anchor="middle" class="tk gcx">2026-04-09T14:45:00Z</text>
<text x="1247.0" y="802.9" text-anchor="middle" class="tk gcx">2026-04-09T14:46:00Z</text>
<text x="1252.6" y="802.9" text-anchor="middle" class="tk gcx">2026-04-09T14:47:00Z</text>
<text x="1258.2" y="802.9" text-anchor="middle" class="tk gcx">2026-04-09T14:48:00Z</text>
<text x="1263.8" y="802.9" text-anchor="middle" class="tk gcx">2026-04-09T14:49:00Z</text>
<text x="1269.5" y="802.9" text-anchor="middle" class="tk gcx">2026-04-09T14:50:00Z</text>
<text x="1275.1" y="802.9" text-anchor="middle" class="tk gcx">2026-04-09T14:51:00Z</text>
<text x="1280.7" y="802.9" text-anchor="middle" class="tk gcx">2026-04-09T14:52:00Z</text>
<text x="1286.3" y="802.9" text-anchor="middle" class="tk gcx">2026-04-09T14:53:00Z</text>
<text x="1291.9" y="802.9" text-anchor="middle" class="tk gcx">2026-04-09T14:54:00Z</text>
<text x="1297.5" y="802.9" text-anchor="middle" class="tk gcx">2026-04-09T14:55:00Z</text>
<text x="1303.1" y="802.9" text-anchor="middle" class="tk gcx">2026-04-09T14:56:00Z</text>
<text x="1308.8" y="802.9" text-anchor="middle" class="tk gcx">2026-04-09T14:57:00Z</text>
<text x="1314.4" y="802.9" text-anchor="middle" class="tk gcx">2026-04-09T14:58:00Z</text>
<text x="1320.0" y="802.9" text-anchor="middle" class="tk gcx">2026-04-09T14:59:00Z</text>
<text x="1325.6" y="802.9" text-anchor="middle" class="tk gcx">2026-04-09T14:00:00Z</text>
<text x="1331.2" y="802.9" text-anchor="middle" class="tk gcx">2026-04-09T14:01:00Z</text>
<text x="1336.8" y="802.9" text-anchor="middle" class="tk gcx">2026-04-09T14:02:00Z</text>
<text x="1342.4" y="802.9" text-anchor="middle" class="tk gcx">2026-04-09T14:03:00Z</text>
<text x="1348.1" y="802.9" text-anchor="middle" class="tk gcx">2026-04-09T14:04:00Z</text>
<text x="1353.7" y="802.9" text-anchor="middle" class="tk gcx">2026-04-09T14:05:00Z</text>
<text x="1359.3" y="802.9" text-anchor="middle" class="tk gcx">2026-04-09T14:06:00Z</text>
<text x="1364.9" y="802.9" text-anchor="middle" class="tk gcx">2026-04-09T14:07:00Z</text>
<text x="1370.5" y="802.9" text-anchor="middle" class="tk gcx">2026-04-09T14:08:00Z</text>
<text x="1376.1" y="802.9" text-anchor="middle" class="tk gcx">2026-04-09T14:09:00Z</text>
</g>
<text x="1076" y="684.3" text-anchor="end" class="tk">758</text><text x="1076" y="711.4" text-anchor="end" class="tk">568</text><text x="1076" y="738.9" text-anchor="end" class="tk">379</text><text x="1076" y="765.6" text-anchor="end" class="tk">189</text><text x="1076" y="792.3" text-anchor="end" class="tk">0</text>
<text transform="translate(1050.5,729) rotate(-90)" text-anchor="middle" class="yl">ms</text>
</svg>

<div class="abs" style="left:1394px;top:90px;width:6px;height:528px;background:#E3DFD9;border-radius:3px"></div>
</body>
</html>
